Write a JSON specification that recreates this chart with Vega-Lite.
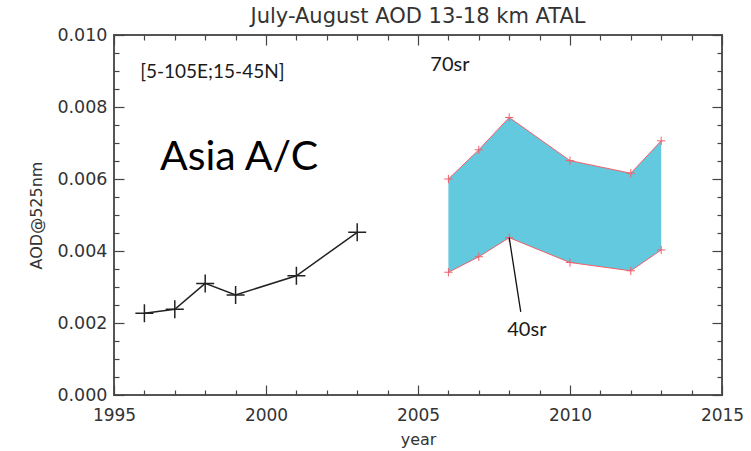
{
  "$schema": "https://vega.github.io/schema/vega-lite/v6.json",
  "width": 608,
  "height": 360,
  "autosize": "none",
  "padding": {"left": 114, "top": 35, "right": 29, "bottom": 56},
  "background": "white",
  "title": {"text": "July-August AOD 13-18 km ATAL", "font": "DejaVu Sans", "fontSize": 21, "fontWeight": "normal", "color": "#333", "offset": 9, "anchor": "middle", "dy": 10},
  "config": {"view": {"stroke": "#555", "strokeWidth": 2}, "axis": {"domain": false, "grid": false}},
  "resolve": {"axis": {"x": "independent", "y": "independent"}},
  "datasets": {
    "band": [
      {"year": 2006, "hi": 0.0060, "lo": 0.00341},
      {"year": 2007, "hi": 0.00681, "lo": 0.00384},
      {"year": 2008, "hi": 0.00771, "lo": 0.00437},
      {"year": 2010, "hi": 0.00651, "lo": 0.00368},
      {"year": 2012, "hi": 0.00616, "lo": 0.00345},
      {"year": 2013, "hi": 0.00706, "lo": 0.00403}
    ],
    "black": [
      {"year": 1996, "aod": 0.00227},
      {"year": 1997, "aod": 0.00238},
      {"year": 1998, "aod": 0.0031},
      {"year": 1999, "aod": 0.00278},
      {"year": 2001, "aod": 0.00331},
      {"year": 2003, "aod": 0.00452}
    ]
  },
  "layer": [
    {
      "data": {"name": "band"},
      "mark": {"type": "area", "color": "#63c9de", "opacity": 1},
      "encoding": {
        "x": {"field": "year", "type": "quantitative", "scale": {"domain": [1995, 2015], "nice": false, "zero": false},
          "axis": {"orient": "bottom", "values": [1995,1996,1997,1998,1999,2000,2001,2002,2003,2004,2005,2006,2007,2008,2009,2010,2011,2012,2013,2014,2015],
            "format": "d", "labelExpr": "datum.value % 5 === 0 ? datum.label : ''",
            "tickSize": {"condition": {"test": "datum.value % 5 === 0", "value": -10}, "value": -5},
            "tickColor": "#444", "tickWidth": 1.2,
            "labelFont": "DejaVu Sans", "labelFontSize": 17, "labelColor": "#333", "labelPadding": 22, "labelFlush": false, "labelOverlap": false,
            "title": "year", "titleFont": "DejaVu Sans", "titleFontSize": 16, "titleFontWeight": "normal", "titleColor": "#333", "titlePadding": 3}},
        "y": {"field": "hi", "type": "quantitative", "scale": {"domain": [0, 0.01], "nice": false},
          "axis": {"orient": "left", "values": [0,0.0005,0.001,0.0015,0.002,0.0025,0.003,0.0035,0.004,0.0045,0.005,0.0055,0.006,0.0065,0.007,0.0075,0.008,0.0085,0.009,0.0095,0.01],
            "format": ".3f", "labelExpr": "round(datum.value*2000) % 4 === 0 ? datum.label : ''",
            "tickSize": {"condition": {"test": "round(datum.value*2000) % 4 === 0", "value": -10}, "value": -5},
            "tickColor": "#444", "tickWidth": 1.2,
            "labelFont": "DejaVu Sans", "labelFontSize": 17.5, "labelColor": "#333", "labelPadding": 17, "labelFlush": false, "labelOverlap": false,
            "title": "AOD@525nm", "titleFont": "DejaVu Sans", "titleFontSize": 16, "titleFontWeight": "normal", "titleColor": "#333", "titlePadding": 12}},
        "y2": {"field": "lo"}
      }
    },
    {
      "data": {"name": "band"},
      "mark": {"type": "line", "color": "#f0606b", "strokeWidth": 1},
      "encoding": {
        "x": {"field": "year", "type": "quantitative", "scale": {"domain": [1995, 2015], "nice": false, "zero": false},
          "axis": {"orient": "top", "values": [1995,1996,1997,1998,1999,2000,2001,2002,2003,2004,2005,2006,2007,2008,2009,2010,2011,2012,2013,2014,2015],
            "labels": false, "title": null,
            "tickSize": {"condition": {"test": "datum.value % 5 === 0", "value": -10}, "value": -5},
            "tickColor": "#444", "tickWidth": 1.2}},
        "y": {"field": "hi", "type": "quantitative", "scale": {"domain": [0, 0.01], "nice": false},
          "axis": {"orient": "right", "values": [0,0.0005,0.001,0.0015,0.002,0.0025,0.003,0.0035,0.004,0.0045,0.005,0.0055,0.006,0.0065,0.007,0.0075,0.008,0.0085,0.009,0.0095,0.01],
            "labels": false, "title": null,
            "tickSize": {"condition": {"test": "round(datum.value*2000) % 4 === 0", "value": -10}, "value": -5},
            "tickColor": "#444", "tickWidth": 1.2}}
      }
    },
    {
      "data": {"name": "band"},
      "mark": {"type": "line", "color": "#f0606b", "strokeWidth": 1},
      "encoding": {
        "x": {"field": "year", "type": "quantitative", "axis": null},
        "y": {"field": "lo", "type": "quantitative", "axis": null}
      }
    },
    {
      "data": {"name": "band"},
      "mark": {"type": "point", "shape": "M-1,0L1,0M0,-1L0,1", "filled": false, "size": 70, "stroke": "#f0606b", "strokeWidth": 1, "opacity": 1},
      "encoding": {
        "x": {"field": "year", "type": "quantitative", "axis": null},
        "y": {"field": "hi", "type": "quantitative", "axis": null}
      }
    },
    {
      "data": {"name": "band"},
      "mark": {"type": "point", "shape": "M-1,0L1,0M0,-1L0,1", "filled": false, "size": 70, "stroke": "#f0606b", "strokeWidth": 1, "opacity": 1},
      "encoding": {
        "x": {"field": "year", "type": "quantitative", "axis": null},
        "y": {"field": "lo", "type": "quantitative", "axis": null}
      }
    },
    {
      "data": {"name": "black"},
      "mark": {"type": "line", "color": "#222", "strokeWidth": 1.5},
      "encoding": {
        "x": {"field": "year", "type": "quantitative", "axis": null},
        "y": {"field": "aod", "type": "quantitative", "axis": null}
      }
    },
    {
      "data": {"name": "black"},
      "mark": {"type": "point", "shape": "M-1,0L1,0M0,-1L0,1", "filled": false, "size": 324, "stroke": "#222", "strokeWidth": 1.5, "opacity": 1},
      "encoding": {
        "x": {"field": "year", "type": "quantitative", "axis": null},
        "y": {"field": "aod", "type": "quantitative", "axis": null}
      }
    },
    {
      "data": {"values": [{"x": 2008, "y": 0.00437, "x2": 2008.38, "y2": 0.00231}]},
      "mark": {"type": "rule", "color": "#111", "strokeWidth": 1.3},
      "encoding": {
        "x": {"field": "x", "type": "quantitative", "axis": null},
        "y": {"field": "y", "type": "quantitative", "axis": null},
        "x2": {"field": "x2"},
        "y2": {"field": "y2"}
      }
    },
    {
      "data": {"values": [{"x": 2006.05, "y": 0.00917, "label": "70sr"}, {"x": 2008.58, "y": 0.00181, "label": "40sr"}]},
      "mark": {"type": "text", "font": "Lato", "fontSize": 20, "color": "#1a1a1a", "align": "center", "baseline": "middle"},
      "encoding": {
        "x": {"field": "x", "type": "quantitative", "axis": null},
        "y": {"field": "y", "type": "quantitative", "axis": null},
        "text": {"field": "label"}
      }
    },
    {
      "data": {"values": [{"x": 1995.86, "y": 0.00898, "label": "[5-105E;15-45N]"}]},
      "mark": {"type": "text", "font": "Lato", "fontSize": 19, "color": "#1a1a1a", "align": "left", "baseline": "middle"},
      "encoding": {
        "x": {"field": "x", "type": "quantitative", "axis": null},
        "y": {"field": "y", "type": "quantitative", "axis": null},
        "text": {"field": "label"}
      }
    },
    {
      "data": {"values": [{"x": 1996.51, "y": 0.00658, "label": "Asia A/C"}]},
      "mark": {"type": "text", "font": "Lato", "fontSize": 41, "color": "#000", "align": "left", "baseline": "middle"},
      "encoding": {
        "x": {"field": "x", "type": "quantitative", "axis": null},
        "y": {"field": "y", "type": "quantitative", "axis": null},
        "text": {"field": "label"}
      }
    }
  ]
}
